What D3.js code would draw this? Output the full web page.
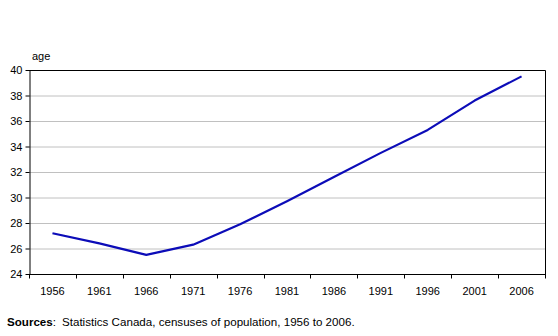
<!DOCTYPE html>
<html><head><meta charset="utf-8">
<script src="https://cdn.jsdelivr.net/npm/d3@7"></script>
<style>body{margin:0;background:#fff}svg{display:block;font-family:"Liberation Sans",Arial,sans-serif}</style>
</head><body><svg id="c" width="558" height="336"></svg>
<script>
const years = ["1956","1961","1966","1971","1976","1981","1986","1991","1996","2001","2006"];
const medianAge = [27.2, 26.4, 25.5, 26.3, 27.9, 29.7, 31.6, 33.5, 35.3, 37.6, 39.5];
const yTicks = [24, 26, 28, 30, 32, 34, 36, 38, 40];

const svg = d3.select("#c");
const L = 29, R = 545, T = 70, B = 274;
const x = d3.scaleBand().domain(years).range([L, R]);
const y = d3.scaleLinear().domain([24, 40]).range([B, T]);

// gridlines
svg.append("g").selectAll("line").data(yTicks.filter(d => d > 24 && d < 40)).join("line")
  .attr("x1", L).attr("x2", R).attr("y1", d => y(d) + 0.5).attr("y2", d => y(d) + 0.5)
  .attr("stroke", "#c0c0c0").attr("stroke-width", 1);

// frame top & right
svg.append("path").attr("d", `M${L},${T + 0.5}H${R + 0.5}V${B}`).attr("fill", "none").attr("stroke", "#000");

// y axis
const yAx = svg.append("g").attr("transform", `translate(${L + 0.5},0)`)
  .call(d3.axisLeft(y).tickValues(yTicks).tickSize(4).tickPadding(3).tickSizeOuter(0));
yAx.selectAll("text").attr("font-size", 11).attr("fill", "#000").attr("font-family", "Liberation Sans, Arial, sans-serif");
yAx.selectAll("line,path").attr("stroke", "#000");

// x axis (ticks at category boundaries)
const xAxG = svg.append("g").attr("transform", `translate(0,${B + 0.5})`);
xAxG.append("line").attr("x1", L).attr("x2", R + 1).attr("stroke", "#000");
xAxG.selectAll("line.t").data(years.concat(["end"])).join("line").attr("class", "t")
  .attr("x1", (d, i) => Math.round(L + i * x.step()) + 0.5).attr("x2", (d, i) => Math.round(L + i * x.step()) + 0.5)
  .attr("y1", 0).attr("y2", 4).attr("stroke", "#000");
xAxG.selectAll("text").data(years).join("text")
  .attr("x", d => x(d) + x.bandwidth() / 2).attr("y", 20)
  .attr("text-anchor", "middle").attr("font-size", 11).attr("fill", "#000").text(d => d);

// line
const line = d3.line().x((d, i) => x(years[i]) + x.bandwidth() / 2).y(d => y(d));
svg.append("path").datum(medianAge).attr("d", line).attr("fill", "none")
  .attr("stroke", "#0c0cb8").attr("stroke-width", 2.2).attr("stroke-linejoin", "round");

// y label
svg.append("text").attr("x", 32).attr("y", 60).attr("font-size", 11).text("age");

// source
const s = svg.append("text").attr("x", 7).attr("y", 326).attr("font-size", 11.6);
s.append("tspan").attr("font-weight", "bold").text("Sources");
s.append("tspan").text(":");
s.append("tspan").attr("dx", 6).text("Statistics Canada, censuses of population, 1956 to 2006.");
</script></body></html>
